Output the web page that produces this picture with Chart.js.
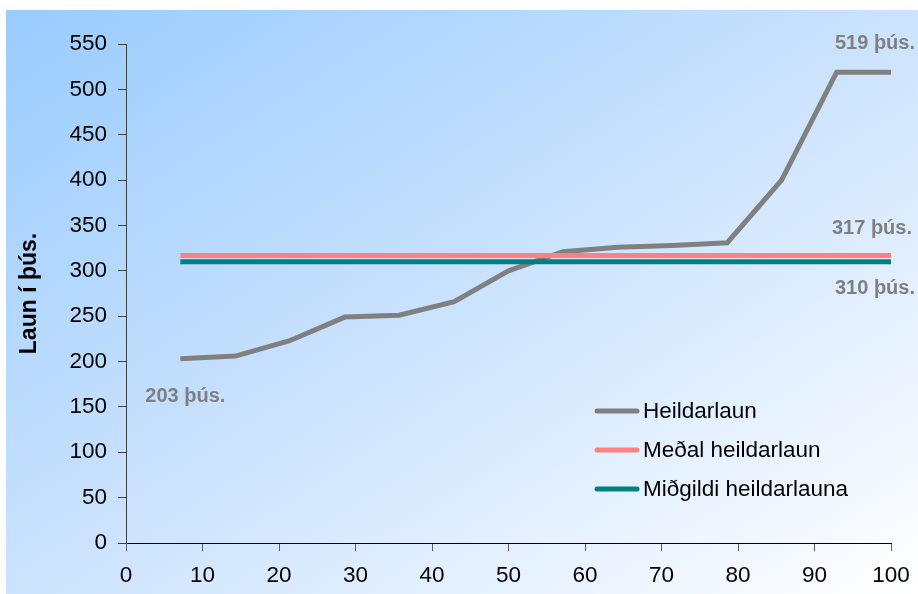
<!DOCTYPE html>
<html>
<head>
<meta charset="utf-8">
<script src="https://cdn.jsdelivr.net/npm/chart.js@4.4.1/dist/chart.umd.min.js"></script>
<style>
  html, body { margin: 0; padding: 0; background: #ffffff; }
  #wrap { position: relative; width: 918px; height: 594px; }
  #bg { position: absolute; left: 6px; top: 10px; width: 912px; height: 584px;
        background: linear-gradient(to bottom right, #99ccff 0%, #c6e0fd 45%, #ffffff 100%); }
  #c { position: absolute; left: 0; top: 0; }
</style>
</head>
<body>
<div id="wrap"><div id="bg"></div><canvas id="c" width="918" height="594"></canvas></div>
<script>
// Percentile positions (x) and values (thousand ISK)
const xPositions = [7.1, 14.3, 21.4, 28.6, 35.7, 42.9, 50, 57.1, 64.3, 71.4, 78.6, 85.7, 92.9, 100];
const heildarlaun = [203, 206, 223, 249, 251, 266, 300, 321, 326, 328, 331, 400, 519, 519];
const medalHeildarlaun = [317, 317, 317, 317, 317, 317, 317, 317, 317, 317, 317, 317, 317, 317];
const midgildiHeildarlauna = [310, 310, 310, 310, 310, 310, 310, 310, 310, 310, 310, 310, 310, 310];
const seriesNames = ['Heildarlaun', 'Meðal heildarlaun', 'Miðgildi heildarlauna'];
const yAxisTitle = 'Laun í þús.';
const xTicks = [0, 10, 20, 30, 40, 50, 60, 70, 80, 90, 100];
const yTicks = [0, 50, 100, 150, 200, 250, 300, 350, 400, 450, 500, 550];

const FONT = '"Liberation Sans", Arial, sans-serif';
const toPts = (vals) => vals.map((v, i) => ({ x: xPositions[i], y: v }));

const colors = ['#808080', '#ff8080', '#008080'];

const annotationPlugin = {
  id: 'annots',
  afterDatasetsDraw(chart) {
    const ctx = chart.ctx;
    const xs = chart.scales.x, ys = chart.scales.y;
    const last = xPositions.length - 1;
    ctx.save();
    ctx.font = 'bold 20px ' + FONT;
    ctx.fillStyle = '#808080';
    ctx.textAlign = 'center';
    ctx.textBaseline = 'middle';
    const t = (v) => v + ' þús.';
    ctx.fillText(t(heildarlaun[last]), xs.getPixelForValue(xPositions[last]) - 16, ys.getPixelForValue(heildarlaun[last]) - 29);
    ctx.fillText(t(medalHeildarlaun[last]), xs.getPixelForValue(xPositions[last]) - 19, ys.getPixelForValue(medalHeildarlaun[last]) - 27);
    ctx.fillText(t(midgildiHeildarlauna[last]), xs.getPixelForValue(xPositions[last]) - 16, ys.getPixelForValue(midgildiHeildarlauna[last]) + 27);
    ctx.fillText(t(heildarlaun[0]), xs.getPixelForValue(xPositions[0]) + 5, ys.getPixelForValue(heildarlaun[0]) + 38);

    // legend
    ctx.font = '22.5px ' + FONT;
    ctx.fillStyle = '#000000';
    ctx.textAlign = 'left';
    const lx0 = 597, lx1 = 637, tx = 643;
    const ly = [411, 450, 489];
    chart.data.datasets.forEach((ds, i) => {
      ctx.strokeStyle = ds.borderColor;
      ctx.lineWidth = 5;
      ctx.lineCap = 'round';
      ctx.beginPath();
      ctx.moveTo(lx0, ly[i]);
      ctx.lineTo(lx1, ly[i]);
      ctx.stroke();
      ctx.fillText(ds.label, tx, ly[i] + 1);
    });
    ctx.restore();
  }
};

new Chart(document.getElementById('c'), {
  type: 'line',
  data: {
    datasets: [
      { label: seriesNames[0], data: toPts(heildarlaun), borderColor: colors[0], borderWidth: 5, pointRadius: 0, order: 3, tension: 0 },
      { label: seriesNames[1], data: toPts(medalHeildarlaun), borderColor: colors[1], borderWidth: 5, pointRadius: 0, order: 2 },
      { label: seriesNames[2], data: toPts(midgildiHeildarlauna), borderColor: colors[2], borderWidth: 5, pointRadius: 0, order: 1 }
    ]
  },
  options: {
    responsive: false,
    animation: false,
    layout: { padding: { left: 0, top: 44, right: 27, bottom: 0 } },
    plugins: { legend: { display: false }, tooltip: { enabled: false } },
    scales: {
      x: {
        type: 'linear', min: 0, max: 100,
        afterBuildTicks: (s) => { s.ticks = xTicks.map(v => ({ value: v })); },
        afterFit: (s) => { s.height = 51; s.paddingLeft = 0; s.paddingRight = 0; },
        grid: { drawOnChartArea: false, drawTicks: true, tickLength: 8, color: '#606060', lineWidth: 1 },
        border: { display: true, color: '#000000', width: 1 },
        ticks: { color: '#000000', font: { family: FONT, size: 22.5 }, padding: 11, maxRotation: 0 }
      },
      y: {
        type: 'linear', min: 0, max: 550,
        afterBuildTicks: (s) => { s.ticks = yTicks.map(v => ({ value: v })); },
        afterFit: (s) => { s.width = 126; s.paddingTop = 0; s.paddingBottom = 0; },
        grid: { drawOnChartArea: false, drawTicks: true, tickLength: 8, color: '#404040', lineWidth: 1 },
        border: { display: true, color: '#404040', width: 1 },
        ticks: { color: '#000000', font: { family: FONT, size: 22.5 }, padding: 11 },
        title: { display: true, text: yAxisTitle, color: '#000000', font: { family: FONT, size: 23, weight: 'bold' }, padding: { top: 16, bottom: 0 } }
      }
    }
  },
  plugins: [annotationPlugin]
});
</script>
</body>
</html>
